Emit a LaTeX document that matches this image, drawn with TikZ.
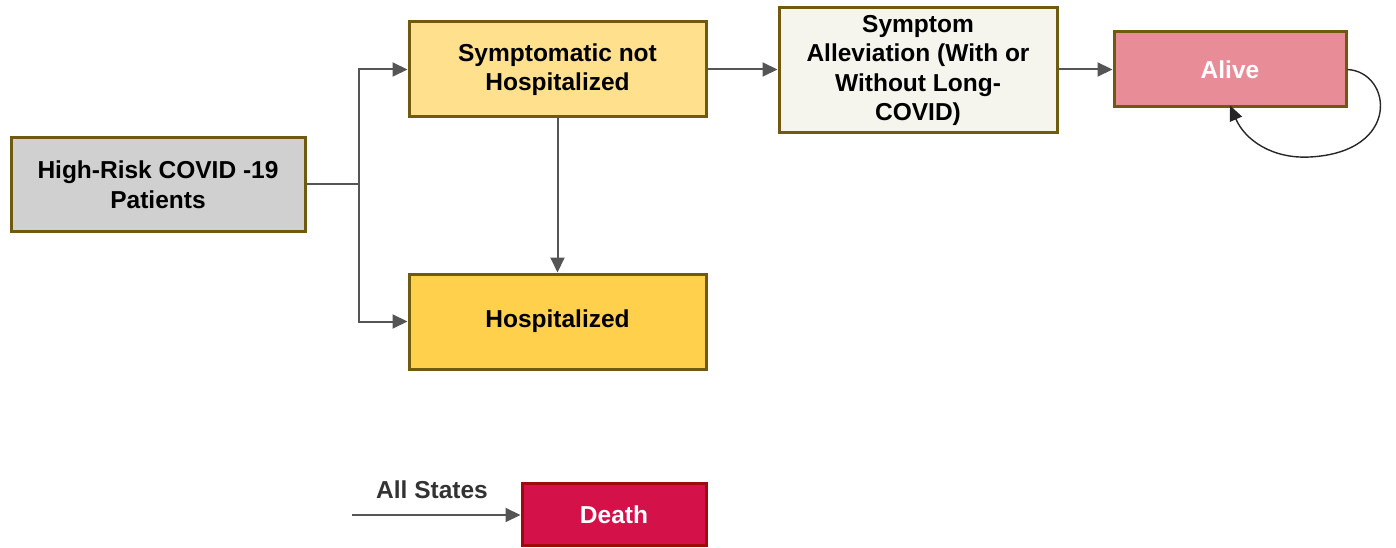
\documentclass[tikz,border=0pt]{standalone}
\usepackage{fontspec}
\setmainfont{Liberation Sans}
\usetikzlibrary{arrows.meta}
\definecolor{bord}{HTML}{705A10}
\definecolor{grayfill}{HTML}{D0D0D0}
\definecolor{lightyel}{HTML}{FFE08C}
\definecolor{darkyel}{HTML}{FFD04B}
\definecolor{cream}{HTML}{F5F5EE}
\definecolor{pinkfill}{HTML}{E88D97}
\definecolor{deathfill}{HTML}{D41149}
\definecolor{deathbord}{HTML}{9E0B0B}
\definecolor{conn}{HTML}{555555}
\tikzset{
  box/.style={draw=bord, line width=3pt, inner sep=0pt, align=center,
    font=\fontsize{24.5}{29.5}\selectfont\bfseries},
  arr/.style={draw=conn, line width=2pt, -{Triangle[length=15pt,width=14pt]}},
  loopline/.style={draw=black!85, line width=1.4pt, -{Triangle[length=15pt,width=13pt]}},
}
\begin{document}
\begin{tikzpicture}[x=1pt,y=-1pt]
\useasboundingbox (0,0) rectangle (1396,548);
\node[box, fill=grayfill, minimum width=294pt, minimum height=93pt] (hr) at (158,184.5) {High-Risk COVID -19\\Patients};
\node[box, fill=lightyel, minimum width=297pt, minimum height=95pt] (sym) at (557.5,69.5) {Symptomatic not\\Hospitalized};
\node[box, fill=darkyel, minimum width=297pt, minimum height=95pt] (hosp) at (557.5,321.5) {Hospitalized};
\node[box, fill=cream, minimum width=278pt, minimum height=125pt] (alle) at (918,70.5) {Symptom\\Alleviation (With or\\Without Long-\\COVID)};
\node[box, fill=pinkfill, text=white, minimum width=232pt, minimum height=75pt] (alive) at (1230,69.5) {Alive};
\node[box, draw=deathbord, fill=deathfill, text=white, minimum width=184pt, minimum height=62pt] (death) at (614,514.5) {Death};
\node[font=\fontsize{24.5}{28}\selectfont\bfseries, text=black!80] (lab) at (432,490) {All States};
\coordinate (src) at (352,515);

\draw[arr] (hr.east) -- ++(52,0) |- (sym.west);
\draw[arr] (hr.east) -- ++(52,0) |- (hosp.west);
\draw[arr] (sym.south) -- (hosp.north);
\draw[arr] (sym.east) -- (sym.east -| alle.west);
\draw[arr] (alle.east |- alive.west) -- (alive.west);
\draw[arr] (src) -- (src -| death.west);
\draw[loopline] (alive.east) .. controls (1392,72) and (1402,152) .. (1310,157)
  .. controls (1272,159) and (1245,140) .. ([yshift=3pt]alive.south);
\end{tikzpicture}
\end{document}
